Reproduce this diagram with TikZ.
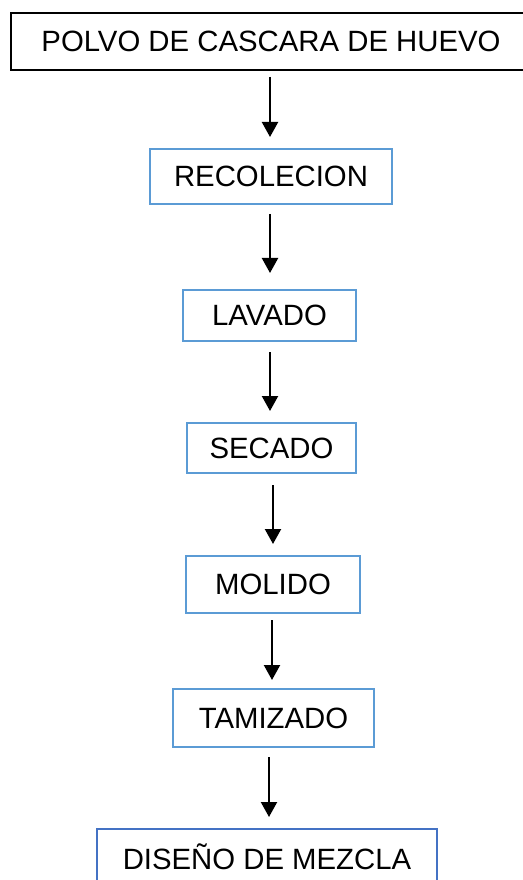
\documentclass[tikz,border=0pt]{standalone}
\usepackage{fontspec}
\setmainfont{Liberation Sans}
\usetikzlibrary{arrows.meta}
\definecolor{lblue}{HTML}{5B9BD5}
\definecolor{dblue}{HTML}{4472C4}
\tikzset{
  stepbox/.style={draw=lblue, line width=1.6pt, inner sep=0pt, align=center,
    font=\fontsize{22}{26}\selectfont},
  topbox/.style={stepbox, draw=black},
  endbox/.style={stepbox, draw=dblue},
  flow/.style={line width=1.6pt, -{Triangle[length=11.25pt, width=12pt]}}
}
\begin{document}
\begin{tikzpicture}[x=0.75pt,y=-0.75pt]
\useasboundingbox (0,0) rectangle (523,880);
\clip (0,0) rectangle (523,880);
\fill[white] (0,0) rectangle (523,880);
\node[topbox, minimum width=390pt, minimum height=42.75pt] (polvo) at (271,41.5) {POLVO DE CASCARA DE HUEVO};
\node[stepbox, minimum width=181.5pt, minimum height=41.25pt] (recol) at (271,176.5) {RECOLECION};
\node[stepbox, minimum width=129.75pt, minimum height=38.25pt] (lavado) at (269.5,315.5) {LAVADO};
\node[stepbox, minimum width=126.75pt, minimum height=37.5pt] (secado) at (271.5,448) {SECADO};
\node[stepbox, minimum width=130.5pt, minimum height=42.75pt] (molido) at (273,584.5) {MOLIDO};
\node[stepbox, minimum width=150.75pt, minimum height=43.5pt] (tamiz) at (273.5,718) {TAMIZADO};
\node[endbox, minimum width=255pt, minimum height=42pt] (mezcla) at (267,857) {DISEÑO DE MEZCLA};
\coordinate (a1s) at (270,77);  \coordinate (a1e) at (270,137);
\coordinate (a2s) at (270,214); \coordinate (a2e) at (270,273);
\coordinate (a3s) at (270,352); \coordinate (a3e) at (270,411);
\coordinate (a4s) at (273,485); \coordinate (a4e) at (273,544);
\coordinate (a5s) at (272,620); \coordinate (a5e) at (272,680);
\coordinate (a6s) at (269,757); \coordinate (a6e) at (269,817);
\draw[flow] (a1s) -- (a1e);
\draw[flow] (a2s) -- (a2e);
\draw[flow] (a3s) -- (a3e);
\draw[flow] (a4s) -- (a4e);
\draw[flow] (a5s) -- (a5e);
\draw[flow] (a6s) -- (a6e);
\end{tikzpicture}
\end{document}
